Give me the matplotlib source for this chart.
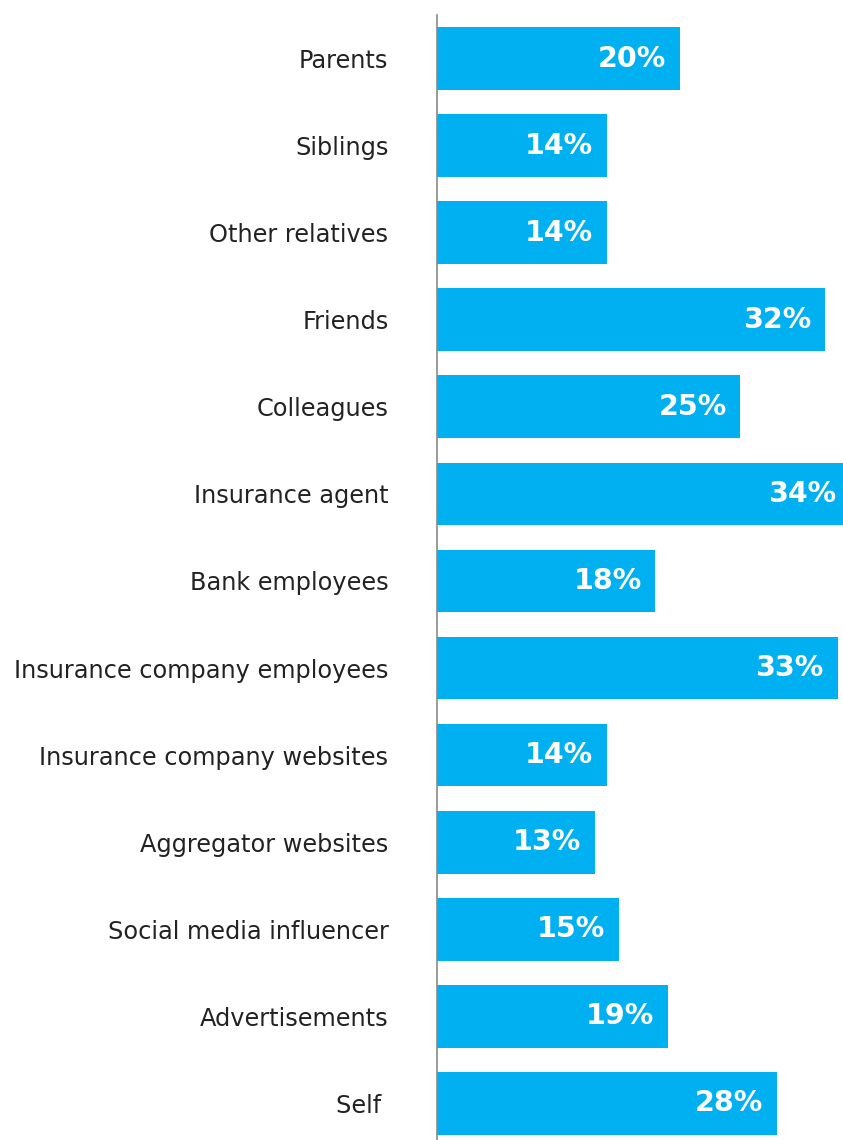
import matplotlib.pyplot as plt

sources = ['Parents', 'Siblings', 'Other relatives', 'Friends', 'Colleagues',
           'Insurance agent', 'Bank employees', 'Insurance company employees',
           'Insurance company websites', 'Aggregator websites',
           'Social media influencer', 'Advertisements', 'Self ']
shares = [20, 14, 14, 32, 25, 34, 18, 33, 14, 13, 15, 19, 28]

bar_color = '#00B0F0'

fig = plt.figure(figsize=(8.43, 11.4), dpi=100)
ax = fig.add_axes([437 / 843, 0, 1 - 437 / 843, 1 - 15 / 1140])

ypos = list(range(len(sources)))
ax.barh(ypos, shares, height=0.72, color=bar_color)

for y, v in zip(ypos, shares):
    ax.annotate('{}%'.format(v), xy=(v, y), xytext=(-10, 0), textcoords='offset points',
                ha='right', va='center', color='white', fontsize=20.5,
                fontweight='bold', family='DejaVu Sans', annotation_clip=False)

ax.set_xlim(0, 33.45)
ax.set_ylim(12.42, -0.5)
ax.set_yticks(ypos)
ax.set_yticklabels(sources, fontsize=17.3, color='#222222', family='DejaVu Sans')
ax.tick_params(axis='y', length=0, pad=35)
ax.set_xticks([])

for s in ['top', 'right', 'bottom']:
    ax.spines[s].set_visible(False)
ax.spines['left'].set_color('#8a8a8a')
ax.spines['left'].set_linewidth(1.2)

fig.savefig('out.png', dpi=100)
